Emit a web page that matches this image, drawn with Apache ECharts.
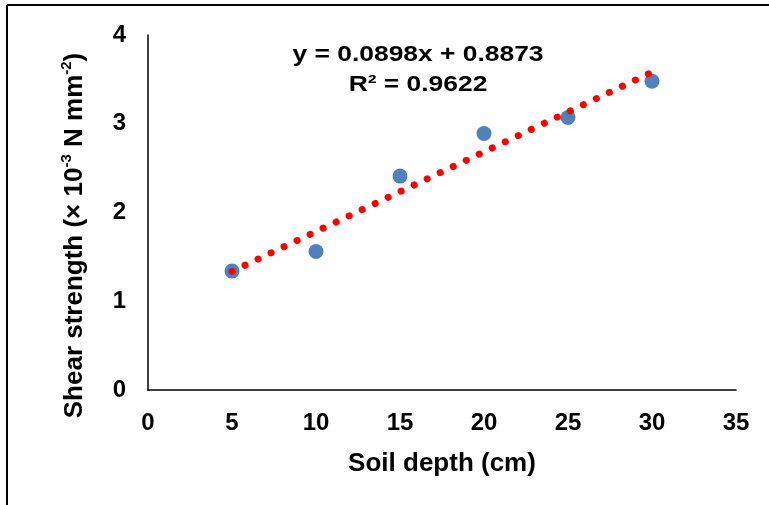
<!DOCTYPE html>
<html>
<head>
<meta charset="utf-8">
<script src="https://cdn.jsdelivr.net/npm/echarts@6/dist/echarts.min.js"></script>
<style>
  html, body { margin: 0; padding: 0; background: #fff; }
  #chart { width: 769px; height: 505px; }
</style>
</head>
<body>
<div id="chart"></div>
<script>
// soil depth (cm) and measured shear strength
const depth = [5, 10, 15, 20, 25, 30];
const strength = [1.34, 1.56, 2.41, 2.89, 3.07, 3.48];
// linear trendline endpoints as drawn
const trendX = [5, 30];
const trendY = [1.336, 3.581];
const equationText = 'y = 0.0898x + 0.8873';
const r2Text = 'R² = 0.9622';

const font = 'Liberation Sans, Arial, sans-serif';

const chart = echarts.init(document.getElementById('chart'));

const option = {
    backgroundColor: '#fff',
    animation: false,
    grid: { left: 148, right: 33, top: 35, bottom: 115 },
    xAxis: {
        type: 'value',
        min: 0, max: 35, interval: 5,
        name: 'Soil depth (cm)',
        nameLocation: 'middle',
        nameGap: 61,
        nameTextStyle: { fontFamily: font, fontWeight: 'bold', fontSize: 26, color: '#000' },
        axisLine: { lineStyle: { color: '#000', width: 1.5 } },
        axisTick: { show: false },
        splitLine: { show: false },
        axisLabel: { fontFamily: font, fontWeight: 'bold', fontSize: 24, color: '#000', margin: 21 }
    },
    yAxis: {
        type: 'value',
        min: 0, max: 4, interval: 1,
        name: '{n|Shear strength (× 10}{s|-3}{n| N mm}{s|-2}{n|)}',
        nameLocation: 'middle',
        nameGap: 60,
        nameTextStyle: {
            padding: [0, 46, 0, 0],
            rich: {
                n: { fontFamily: font, fontWeight: 'bold', fontSize: 26, color: '#000', verticalAlign: 'bottom', lineHeight: 29 },
                s: { fontFamily: font, fontWeight: 'bold', fontSize: 15, color: '#000', verticalAlign: 'top', lineHeight: 29 }
            }
        },
        axisLine: { show: true, lineStyle: { color: '#000', width: 1.5 } },
        axisTick: { show: false },
        splitLine: { show: false },
        axisLabel: { fontFamily: font, fontWeight: 'bold', fontSize: 24, color: '#000', margin: 22 }
    },
    // figure frame (top and left edges only) and trendline equation
    graphic: [
        { type: 'line', shape: { x1: 7, y1: 5, x2: 769, y2: 5 }, style: { stroke: '#000', lineWidth: 2 } },
        { type: 'line', shape: { x1: 7, y1: 5, x2: 7, y2: 505 }, style: { stroke: '#000', lineWidth: 2 } },
        {
            type: 'text', x: 418, y: 55, z: 10, scaleX: 1.2,
            style: { text: equationText, align: 'center', verticalAlign: 'middle', fontFamily: font, fontWeight: 'bold', fontSize: 22, fill: '#000' }
        },
        {
            type: 'text', x: 418, y: 85, z: 10, scaleX: 1.2,
            style: { text: r2Text, align: 'center', verticalAlign: 'middle', fontFamily: font, fontWeight: 'bold', fontSize: 22, fill: '#000' }
        }
    ],
    series: [
        {
            type: 'scatter',
            data: depth.map((d, i) => [d, strength[i]]),
            symbolSize: 15,
            itemStyle: { color: '#4F81BD', opacity: 1 },
            z: 2
        },
        {
            type: 'line',
            data: trendX.map((d, i) => [d, trendY[i]]),
            symbol: 'none',
            lineStyle: { color: '#FF0000', width: 7, type: [0.1, 14.3], cap: 'round' },
            z: 3
        }
    ]
};
chart.setOption(option);
</script>
</body>
</html>
